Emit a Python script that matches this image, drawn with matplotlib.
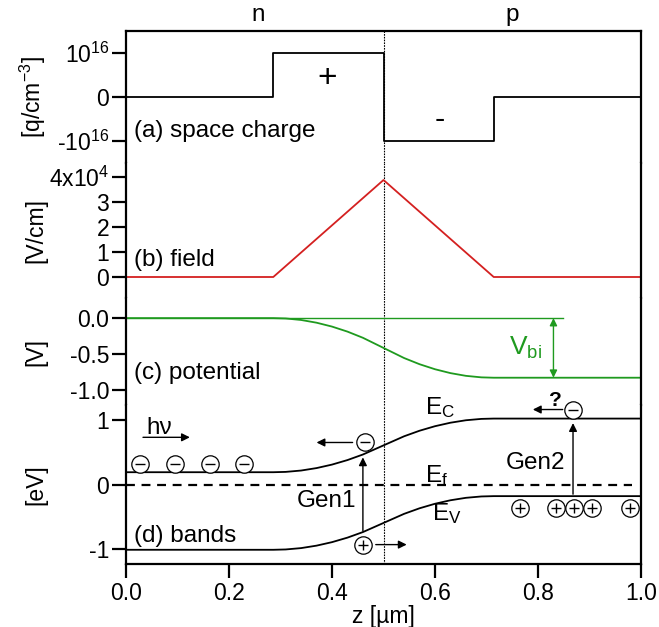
import matplotlib
matplotlib.use("Agg")
import matplotlib.pyplot as plt

plt.rcParams["font.family"] = ["Liberation Sans", "DejaVu Sans"]
plt.rcParams["mathtext.default"] = "regular"
plt.rcParams["font.size"] = 16.5

# piecewise profiles across the junction (z in um)
z_step = [0.0, 0.286, 0.286, 0.5, 0.5, 0.714, 0.714, 1.0]
charge = [0.0, 0.0, 1.0, 1.0, -1.0, -1.0, 0.0, 0.0]          # 1e16 q/cm^3
z_field = [0.0, 0.286, 0.5, 0.714, 1.0]
field = [0.0, 0.0, 3.88, 0.0, 0.0]                            # 1e4 V/cm
z_pot = [0.0, 0.286, 0.31, 0.34, 0.37, 0.40, 0.43, 0.46, 0.50,
         0.54, 0.57, 0.60, 0.63, 0.66, 0.69, 0.714, 1.0]
potential = [0.0, 0.0, -0.005, -0.026, -0.064, -0.118, -0.188, -0.274, -0.415,
             -0.556, -0.642, -0.712, -0.766, -0.804, -0.825, -0.83, -0.83]
vbi = 0.83
ec_n = 0.19
gap = 1.2

ec = [ec_n - v for v in potential]
ev = [e - gap for e in ec]

# carriers drawn as circled charges
elec_left_z = [0.028, 0.095, 0.163, 0.23]
elec_left_y = [0.31] * 4
holes_right_z = [0.765, 0.835, 0.87, 0.905, 0.979]
holes_right_y = [-0.36] * 5

red = "#d42020"
green = "#1f9a1f"
fs = 17.5

fig = plt.figure(figsize=(6.59, 6.27), dpi=100)
gs = fig.add_gridspec(4, 1, height_ratios=[132, 135, 107, 159], hspace=0,
                      left=126 / 659, right=641 / 659, top=1 - 31 / 627, bottom=1 - 564 / 627)
axs = [fig.add_subplot(gs[i]) for i in range(4)]

for i, ax in enumerate(axs):
    ax.set_xlim(0, 1)
    ax.spines["top"].set_visible(i == 0)
    ax.spines["bottom"].set_visible(i == 3)
    for s in ax.spines.values():
        s.set_linewidth(1.6)
    ax.tick_params(axis="y", direction="out", length=10, width=1.6, pad=2)
    ax.tick_params(axis="x", direction="out", length=10, width=1.6, pad=3)
    if i < 3:
        ax.tick_params(axis="x", bottom=False, labelbottom=False)
    ax.axvline(0.5, color="black", lw=0.8, ls=(0, (1.5, 1)), zorder=1)
    ax.yaxis.set_label_coords(-0.152, 0.5)

# (a) space charge
ax = axs[0]
ax.plot(z_step, charge, color="black", lw=1.3)
ax.set_ylim(-1.5, 1.5)
ax.set_yticks([-1, 0, 1])
ax.set_yticklabels(["-$10^{16}$", "0", "$10^{16}$"])
ax.set_ylabel("[q/cm$^{-3}$]")
ax.text(0.015, -0.77, "(a) space charge", va="center", ha="left", fontsize=fs)
ax.text(0.39, 0.42, "+", ha="center", va="center", fontsize=24)
ax.text(0.61, -0.52, "-", ha="center", va="center", fontsize=22)
ax.text(0.256, 1.04, "n", transform=ax.transAxes, ha="center", va="bottom", fontsize=fs)
ax.text(0.75, 1.04, "p", transform=ax.transAxes, ha="center", va="bottom", fontsize=fs)

# (b) field
ax = axs[1]
ax.plot(z_field, field, color=red, lw=1.3)
ax.set_ylim(-0.84, 4.56)
ax.set_yticks([0, 1, 2, 3, 4])
ax.set_yticklabels(["0", "1", "2", "3", "4x$10^4$"])
ax.set_ylabel("[V/cm]")
ax.text(0.015, 0.68, "(b) field", va="center", ha="left", fontsize=fs)

# (c) potential
ax = axs[2]
ax.plot(z_pot, potential, color=green, lw=1.3)
ax.plot([0, 0.849], [0, 0], color=green, lw=1.0)
ax.annotate("", xy=(0.83, -vbi), xytext=(0.83, 0),
            arrowprops=dict(arrowstyle="<|-|>", color=green, lw=1.0,
                            mutation_scale=11, shrinkA=0, shrinkB=0))
ax.text(0.775, -0.42, "V$_{bi}$", color=green, ha="center", va="center", fontsize=19)
ax.set_ylim(-1.21, 0.28)
ax.set_yticks([-1.0, -0.5, 0.0])
ax.set_yticklabels(["-1.0", "-0.5", "0.0"])
ax.set_ylabel("[V]")
ax.text(0.015, -0.76, "(c) potential", va="center", ha="left", fontsize=fs)

# (d) bands
ax = axs[3]
ax.plot(z_pot, ec, color="black", lw=1.3)
ax.plot(z_pot, ev, color="black", lw=1.3)
ax.plot([0, 0.983], [0, 0], color="black", lw=1.6, ls=(0, (4, 3)))
ax.set_ylim(-1.23, 1.23)
ax.set_yticks([-1, 0, 1])
ax.set_yticklabels(["-1", "0", "1"])
ax.set_ylabel("[eV]")
ax.set_xticks([0.0, 0.2, 0.4, 0.6, 0.8, 1.0])
ax.set_xticklabels(["0.0", "0.2", "0.4", "0.6", "0.8", "1.0"])
ax.set_xlabel("z [µm]", fontsize=16.5, labelpad=0)
ax.text(0.015, -0.79, "(d) bands", va="center", ha="left", fontsize=fs)
ax.text(0.58, 1.19, "E$_C$", ha="left", va="center", fontsize=fs)
ax.text(0.58, 0.14, "E$_f$", ha="left", va="center", fontsize=fs)
ax.text(0.595, -0.45, "E$_V$", ha="left", va="center", fontsize=fs)

arrow = dict(arrowstyle="-|>", color="black", lw=1.0, mutation_scale=12, shrinkA=0, shrinkB=0)


def carrier(ax, zs, ys, sign):
    ax.plot(zs, ys, ls="none", marker="o", ms=12.5, mfc="white", mec="black", mew=0.9,
            zorder=4, clip_on=False)
    ax.plot(zs, ys, ls="none", marker="_" if sign < 0 else "+", ms=7, mec="black",
            mew=1.0, zorder=5, clip_on=False)


carrier(ax, elec_left_z, elec_left_y, -1)
carrier(ax, holes_right_z, holes_right_y, 1)
carrier(ax, [0.464], [0.65], -1)
carrier(ax, [0.46], [-0.93], 1)
carrier(ax, [0.868], [1.16], -1)

# light coming in
ax.text(0.04, 0.87, "hν", ha="left", va="center", fontsize=fs)
ax.annotate("", xy=(0.124, 0.73), xytext=(0.033, 0.73), arrowprops=arrow)
# generation near the junction
ax.annotate("", xy=(0.46, 0.42), xytext=(0.46, -0.72), arrowprops=arrow)
ax.text(0.39, -0.25, "Gen1", ha="center", va="center", fontsize=fs)
ax.annotate("", xy=(0.37, 0.65), xytext=(0.44, 0.65), arrowprops=arrow)
ax.annotate("", xy=(0.545, -0.93), xytext=(0.485, -0.93), arrowprops=arrow)
# generation in the neutral p region
ax.annotate("", xy=(0.868, 0.95), xytext=(0.868, -0.15), arrowprops=arrow)
ax.text(0.795, 0.34, "Gen2", ha="center", va="center", fontsize=fs)
ax.annotate("", xy=(0.79, 1.16), xytext=(0.848, 1.16), arrowprops=arrow)
ax.text(0.834, 1.3, "?", ha="center", va="center", fontsize=15, fontweight="bold")

fig.savefig("out.png", dpi=100)
